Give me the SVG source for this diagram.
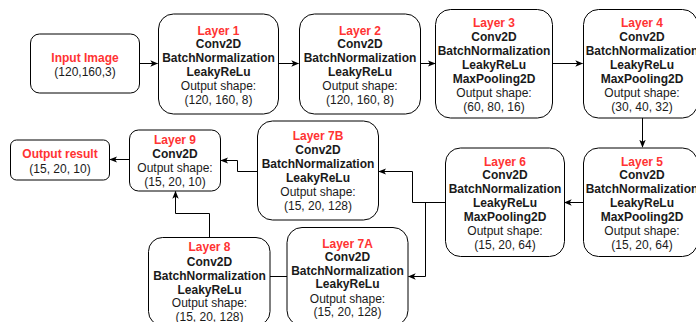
<svg xmlns="http://www.w3.org/2000/svg" width="696" height="322" viewBox="0 0 696 322">
<style>
.box{fill:#fff;stroke:#000;stroke-width:1}
text{font-family:"Liberation Sans",Arial,sans-serif;font-size:12px;text-anchor:middle;fill:#1a1a1a}
.t{fill:#ff3333;font-weight:bold}
.b{font-weight:bold}
.c{fill:none;stroke:#000;stroke-width:1}
</style>
<defs>
<marker id="ah" viewBox="0 0 10 10" refX="9" refY="5" markerWidth="8" markerHeight="8" markerUnits="userSpaceOnUse" orient="auto">
<path d="M0,1 L10,5 L0,9 L2.5,5 Z" fill="#000"/>
</marker>
</defs>
<g id="connectors">
<path class="c" d="M139.5,63.5 H157.5" marker-end="url(#ah)"/>
<path class="c" d="M278.5,63.5 H298.5" marker-end="url(#ah)"/>
<path class="c" d="M420.5,63.5 H435" marker-end="url(#ah)"/>
<path class="c" d="M552.5,63.5 H582.5" marker-end="url(#ah)"/>
<path class="c" d="M642.5,118 V147" marker-end="url(#ah)"/>
<path class="c" d="M583,202.5 H564.5" marker-end="url(#ah)"/>
<path class="c" d="M445.5,202.5 H412.5 V171.5 H379" marker-end="url(#ah)"/>
<path class="c" d="M425.5,202.5 V276.5 H408.5" marker-end="url(#ah)"/>
<path class="c" d="M257.5,171.5 H237.5 V160.5 H221" marker-end="url(#ah)"/>
<path class="c" d="M129.5,159.5 H110" marker-end="url(#ah)"/>
<path class="c" d="M209.5,237.5 V213.5 H175.5 V191.5" marker-end="url(#ah)"/>
<path class="c" d="M270,276.5 H287"/>
</g>
<g id="input">
<rect class="box" x="30.5" y="34" width="109" height="59" rx="9"/>
<text class="t" x="85" y="61.5">Input Image</text>
<text x="85" y="76">(120,160,3)</text>
</g>
<g id="layer1">
<rect class="box" x="158.5" y="14" width="120" height="100" rx="15"/>
<text class="t" x="218.5" y="34.5">Layer 1</text>
<text class="b" x="218.5" y="48">Conv2D</text>
<text class="b" x="218.5" y="62">BatchNormalization</text>
<text class="b" x="218.5" y="75.5">LeakyReLu</text>
<text x="218.5" y="89.5">Output shape:</text>
<text x="218.5" y="103.5">(120, 160, 8)</text>
</g>
<g id="layer2">
<rect class="box" x="299.5" y="14" width="121" height="100" rx="15"/>
<text class="t" x="360" y="34.5">Layer 2</text>
<text class="b" x="360" y="48">Conv2D</text>
<text class="b" x="360" y="62">BatchNormalization</text>
<text class="b" x="360" y="75.5">LeakyReLu</text>
<text x="360" y="89.5">Output shape:</text>
<text x="360" y="103.5">(120, 160, 8)</text>
</g>
<g id="layer3">
<rect class="box" x="435.5" y="9.5" width="117" height="108.5" rx="15"/>
<text class="t" x="494" y="27">Layer 3</text>
<text class="b" x="494" y="40.5">Conv2D</text>
<text class="b" x="494" y="54.5">BatchNormalization</text>
<text class="b" x="494" y="68.5">LeakyReLu</text>
<text class="b" x="494" y="82.5">MaxPooling2D</text>
<text x="494" y="96.5">Output shape:</text>
<text x="494" y="110.5">(60, 80, 16)</text>
</g>
<g id="layer4">
<rect class="box" x="583.5" y="9.5" width="114" height="108.5" rx="15"/>
<text class="t" x="642" y="27">Layer 4</text>
<text class="b" x="642" y="40.5">Conv2D</text>
<text class="b" x="642" y="54.5">BatchNormalization</text>
<text class="b" x="642" y="68.5">LeakyReLu</text>
<text class="b" x="642" y="82.5">MaxPooling2D</text>
<text x="642" y="96.5">Output shape:</text>
<text x="642" y="110.5">(30, 40, 32)</text>
</g>
<g id="layer5">
<rect class="box" x="583.5" y="148" width="114" height="108.5" rx="15"/>
<text class="t" x="642" y="165.5">Layer 5</text>
<text class="b" x="642" y="179">Conv2D</text>
<text class="b" x="642" y="193">BatchNormalization</text>
<text class="b" x="642" y="207">LeakyReLu</text>
<text class="b" x="642" y="221">MaxPooling2D</text>
<text x="642" y="235">Output shape:</text>
<text x="642" y="249">(15, 20, 64)</text>
</g>
<g id="layer6">
<rect class="box" x="445.5" y="148" width="119" height="108.5" rx="15"/>
<text class="t" x="505" y="165.5">Layer 6</text>
<text class="b" x="505" y="179">Conv2D</text>
<text class="b" x="505" y="193">BatchNormalization</text>
<text class="b" x="505" y="207">LeakyReLu</text>
<text class="b" x="505" y="221">MaxPooling2D</text>
<text x="505" y="235">Output shape:</text>
<text x="505" y="249">(15, 20, 64)</text>
</g>
<g id="layer7b">
<rect class="box" x="257.5" y="121" width="121" height="99" rx="15"/>
<text class="t" x="318" y="140">Layer 7B</text>
<text class="b" x="318" y="153.5">Conv2D</text>
<text class="b" x="318" y="167.5">BatchNormalization</text>
<text class="b" x="318" y="181.5">LeakyReLu</text>
<text x="318" y="196">Output shape:</text>
<text x="318" y="209.5">(15, 20, 128)</text>
</g>
<g id="layer9">
<rect class="box" x="129.5" y="130" width="91" height="61" rx="9"/>
<text class="t" x="175" y="143.5">Layer 9</text>
<text class="b" x="175" y="158">Conv2D</text>
<text x="175" y="171.5">Output shape:</text>
<text x="175" y="185.5">(15, 20, 10)</text>
</g>
<g id="output">
<rect class="box" x="10.5" y="140" width="99" height="40" rx="6"/>
<text class="t" x="60" y="157.5">Output result</text>
<text x="60" y="172.5">(15, 20, 10)</text>
</g>
<g id="layer8">
<rect class="box" x="148.5" y="237.5" width="121.5" height="88" rx="14"/>
<text class="t" x="209.5" y="251">Layer 8</text>
<text class="b" x="209.5" y="266">Conv2D</text>
<text class="b" x="209.5" y="279.5">BatchNormalization</text>
<text class="b" x="209.5" y="293.5">LeakyReLu</text>
<text x="209.5" y="307">Output shape:</text>
<text x="209.5" y="321">(15, 20, 128)</text>
</g>
<g id="layer7a">
<rect class="box" x="287" y="227.5" width="121" height="98" rx="15"/>
<text class="t" x="347.5" y="247.5">Layer 7A</text>
<text class="b" x="347.5" y="260.5">Conv2D</text>
<text class="b" x="347.5" y="274.5">BatchNormalization</text>
<text class="b" x="347.5" y="287.5">LeakyReLu</text>
<text x="347.5" y="302.5">Output shape:</text>
<text x="347.5" y="315.5">(15, 20, 128)</text>
</g>
</svg>
